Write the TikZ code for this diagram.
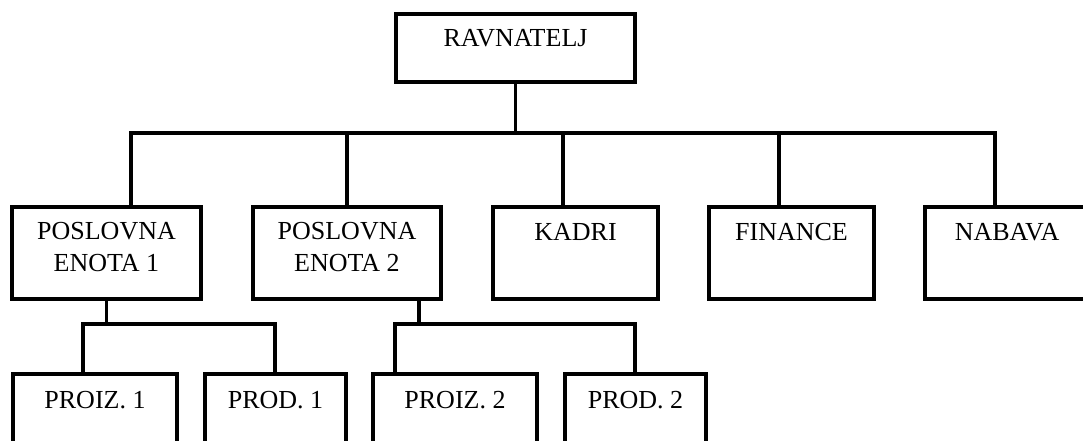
\documentclass[tikz,border=0pt]{standalone}
\usepackage{fontspec}
\setmainfont{Liberation Serif}
\usepackage{tikz}

\begin{document}
\begin{tikzpicture}[
    x=1pt, y=-1pt,
    box/.style={draw, rectangle, line width=3.8pt, inner sep=0pt},
    lbl/.style={font=\fontsize{26}{32}\selectfont, align=center, anchor=base, inner sep=0pt},
    conn/.style={line width=3.5pt}
]
    \clip (0,0) rectangle (1083,440);

    % Top
    \node[box, minimum width=239pt, minimum height=68pt] (rav) at (515.5,48) {};
    \node[lbl] (ravtxt) at ([yshift=-34pt]rav.north) {RAVNATELJ};

    % Second level
    \node[box, minimum width=189pt, minimum height=92pt] (pe1) at (106.5,253) {};
    \node[box, minimum width=188pt, minimum height=92pt] (pe2) at (347,253) {};
    \node[box, minimum width=165pt, minimum height=92pt] (kadri) at (575.5,253) {};
    \node[box, minimum width=165pt, minimum height=92pt] (fin) at (791.5,253) {};
    \node[box, minimum width=164pt, minimum height=92pt] (nab) at (1007,253) {};
    \node[lbl] (pe1txt) at ([yshift=-66pt]pe1.north) {POSLOVNA\\ENOTA 1};
    \node[lbl] (pe2txt) at ([yshift=-66pt]pe2.north) {POSLOVNA\\ENOTA 2};
    \node[lbl] (kadritxt) at ([yshift=-35pt]kadri.north) {KADRI};
    \node[lbl] (fintxt) at ([yshift=-35pt]fin.north) {FINANCE};
    \node[lbl] (nabtxt) at ([yshift=-35pt]nab.north) {NABAVA};

    % Third level
    \node[box, minimum width=164pt, minimum height=96pt] (pz1) at (95,422) {};
    \node[box, minimum width=141pt, minimum height=96pt] (pd1) at (275.5,422) {};
    \node[box, minimum width=164pt, minimum height=96pt] (pz2) at (455,422) {};
    \node[box, minimum width=141pt, minimum height=96pt] (pd2) at (635.5,422) {};
    \node[lbl] (pz1txt) at ([yshift=-36pt]pz1.north) {PROIZ. 1};
    \node[lbl] (pd1txt) at ([yshift=-36pt]pd1.north) {PROD. 1};
    \node[lbl] (pz2txt) at ([yshift=-36pt]pz2.north) {PROIZ. 2};
    \node[lbl] (pd2txt) at ([yshift=-36pt]pd2.north) {PROD. 2};

    % Connectors, top
    \coordinate (j1) at (131,133);
    \coordinate (j2) at (347,133);
    \coordinate (j3) at (563,133);
    \coordinate (j4) at (779,133);
    \coordinate (j5) at (995,133);
    \draw[conn] (rav.south) -- (rav.south |- j1);
    \draw[conn] (j1 |- pe1.north) -- (j1) -- (j5) -- (j5 |- nab.north);
    \draw[conn] (j2) -- (j2 |- pe2.north);
    \draw[conn] (j3) -- (j3 |- kadri.north);
    \draw[conn] (j4) -- (j4 |- fin.north);

    % Connectors, units
    \coordinate (a1) at (83,324);
    \coordinate (a2) at (275,324);
    \coordinate (b1) at (395,324);
    \coordinate (b2) at (635,324);
    \coordinate (b0) at (419,324);
    \draw[conn] (pe1.south) -- (pe1.south |- a1);
    \draw[conn] (a1 |- pz1.north) -- (a1) -- (a2) -- (a2 |- pd1.north);
    \draw[conn] (b0 |- pe2.south) -- (b0);
    \draw[conn] (b1 |- pz2.north) -- (b1) -- (b2) -- (b2 |- pd2.north);
\end{tikzpicture}
\end{document}
